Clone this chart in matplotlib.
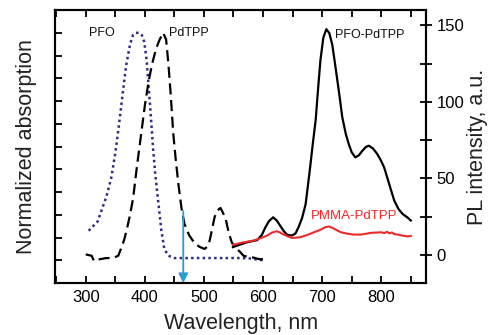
import numpy as np
import matplotlib.pyplot as plt
from matplotlib.ticker import MultipleLocator

plt.rcParams['font.family'] = ['Liberation Sans', 'DejaVu Sans']

# absorption, PFO (dotted)
wl_pfo = [305, 320, 335, 343, 350, 356, 362, 368, 375, 380, 385, 390, 395, 399,
          403, 406, 410, 414, 418, 423, 428, 433, 440, 450, 470, 500, 530, 560,
          580, 590, 600]
abs_pfo = [0.13, 0.17, 0.28, 0.36, 0.47, 0.59, 0.72, 0.85, 0.95, 0.99, 1.0, 1.0,
           0.99, 0.96, 0.88, 0.78, 0.64, 0.49, 0.37, 0.25, 0.13, 0.05, 0.02, 0.01,
           0.01, 0.01, 0.01, 0.01, 0.008, 0.003, 0.0]

# absorption, PdTPP (dashed)
wl_pd = [300, 310, 314, 324, 335, 346, 355, 361, 365, 369, 375, 380, 387, 394,
         400, 406, 412, 419, 425, 431, 436, 440, 444, 448, 452, 457, 462, 467,
         475, 483, 492, 501, 506, 510, 514, 518, 523, 528, 532, 537, 542, 547,
         552, 560, 567, 575, 584, 592, 601]
abs_pd = [0.026, 0.02, -0.003, 0.005, 0.01, 0.01, 0.02, 0.06, 0.09, 0.13, 0.2,
          0.27, 0.42, 0.56, 0.68, 0.78, 0.86, 0.93, 0.97, 1.0, 0.97, 0.86, 0.72,
          0.56, 0.45, 0.33, 0.23, 0.16, 0.11, 0.08, 0.06, 0.05, 0.06, 0.09,
          0.14, 0.19, 0.22, 0.23, 0.21, 0.18, 0.12, 0.08, 0.055, 0.04, 0.02,
          0.015, 0.012, 0.006, 0.004]

# PL, PFO-PdTPP (solid black)
wl_pl1 = [549, 560, 573, 590, 598, 604, 610, 617, 623, 629, 635, 641, 649, 655,
          660, 666, 672, 679, 684, 689, 693, 697, 702, 707, 712, 717, 721, 725,
          730, 734, 740, 745, 750, 756, 762, 768, 774, 779, 786, 793, 799, 805,
          812, 822, 829, 836, 844, 850]
pl1 = [5, 6.5, 8.2, 9.6, 13, 18, 22, 24.5, 22.5, 19, 15.5, 13, 12.6, 14, 18, 24,
       33, 55, 72, 88, 108, 127, 142, 147.5, 145, 137.6, 127, 116, 102, 90, 79,
       72.4, 67, 63.7, 65, 68, 70.5, 71.3, 69.5, 66, 62, 57, 48, 35.4, 30, 26.7,
       24.5, 22.4]

# PL, PMMA-PdTPP (red)
wl_pl2 = [549, 565, 584, 597, 607, 615, 623, 629, 635, 642, 649, 656, 663, 675,
          686, 698, 705, 711, 718, 725, 732, 742, 754, 765, 775, 782, 790, 800,
          805, 810, 814, 818, 822, 828, 836, 845, 850]
pl2 = [6.5, 8, 9.3, 11, 12.6, 14.5, 15.4, 14.5, 13.2, 12, 11, 11.2, 11.5, 13,
       14.7, 16.5, 18, 18.5, 17.5, 16, 14.7, 13.8, 13.2, 13.2, 13.8, 14.3, 14.5,
       14.7, 14.2, 15, 14, 14.6, 13.5, 13.2, 12.5, 12, 12.3]

fig = plt.figure(figsize=(4.91, 3.35), dpi=100)
ax = fig.add_axes([0.112, 0.155, 0.756, 0.815])
ax2 = ax.twinx()

ax.plot(wl_pfo, abs_pfo, color='#2d2d80', lw=1.8, dashes=(1.0, 1.3))
ax.plot(wl_pd, abs_pd, color='black', lw=1.6, dashes=(5, 2.5))
ax2.plot(wl_pl1, pl1, color='black', lw=1.6)
ax2.plot(wl_pl2, pl2, color='#ee2a2a', lw=1.5)

ax.annotate('', xy=(465, -0.1), xytext=(465, 0.216),
            arrowprops=dict(arrowstyle='-|>', color='#2e9ad6', lw=1.3,
                            mutation_scale=14, shrinkA=0, shrinkB=0))

ax.text(327, 1.0, 'PFO', fontsize=9, ha='center', va='center', color='#111')
ax.text(474, 1.0, 'PdTPP', fontsize=9, ha='center', va='center', color='#111')
ax2.text(780, 144, 'PFO-PdTPP', fontsize=9, ha='center', va='center', color='#111')
ax2.text(754, 25.6, 'PMMA-PdTPP', fontsize=9.5, ha='center', va='center',
         color='#ee2a2a')

ax.set_xlim(248, 876)
ax.set_ylim(-0.1, 1.1)
ax2.set_ylim(-18.5, 160)

ax.xaxis.set_major_locator(MultipleLocator(100))
ax.xaxis.set_minor_locator(MultipleLocator(50))
ax.yaxis.set_major_locator(MultipleLocator(0.2))
ax.yaxis.set_minor_locator(MultipleLocator(0.1))
ax2.yaxis.set_major_locator(MultipleLocator(50))
ax2.yaxis.set_minor_locator(MultipleLocator(25))

ax.tick_params(which='both', direction='in', top=True, right=False,
               labelleft=False, width=1.3)
ax.tick_params(which='major', length=5, labelsize=12, pad=5)
ax.tick_params(which='minor', length=5)
ax2.tick_params(which='both', direction='inout', width=1.3)
ax2.tick_params(which='major', length=9, labelsize=12, pad=3)
ax2.tick_params(which='minor', length=9)

for a in (ax, ax2):
    for s in a.spines.values():
        s.set_linewidth(1.5)

ax.set_xlabel('Wavelength, nm', fontsize=15.5, color='#222', labelpad=6)
ax.set_ylabel('Normalized absorption', fontsize=15.5, color='#222', labelpad=13)
ax2.set_ylabel('PL intensity, a.u.', fontsize=15.5, color='#222', labelpad=2)

fig.savefig('out.png', dpi=100)
